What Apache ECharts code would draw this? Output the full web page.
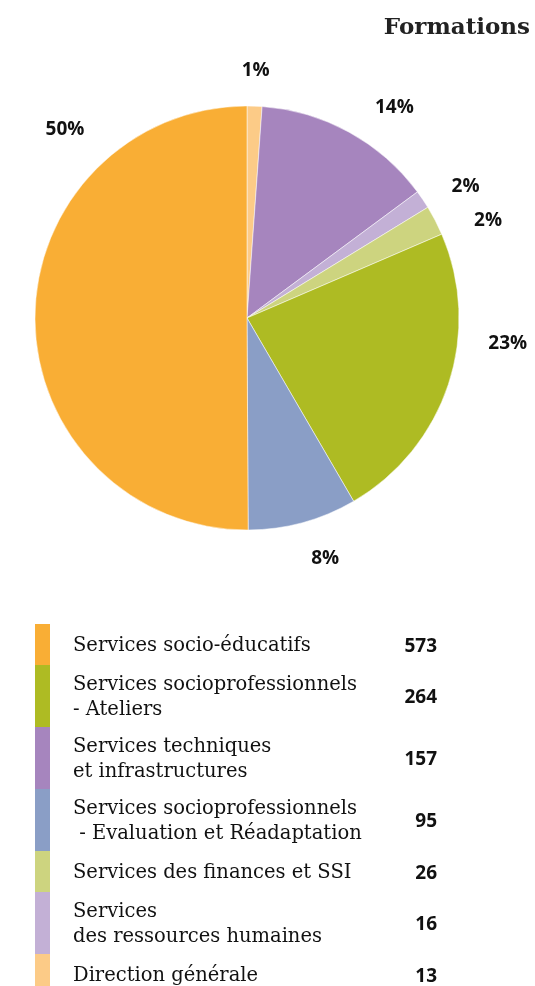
<!DOCTYPE html>
<html>
<head>
<meta charset="utf-8">
<script src="https://cdn.jsdelivr.net/npm/echarts@6/dist/echarts.min.js"></script>
<style>
  html, body { margin: 0; padding: 0; background: #fff; }
  #chart { width: 535px; height: 986px; }
</style>
</head>
<body>
<div id="chart"></div>
<script>
// legend order (top to bottom)
const categories = [
  'Services socio-éducatifs',
  'Services socioprofessionnels\n- Ateliers',
  'Services techniques\net infrastructures',
  'Services socioprofessionnels\n - Evaluation et Réadaptation',
  'Services des finances et SSI',
  'Services\ndes ressources humaines',
  'Direction générale'
]
const values = [573, 264, 157, 95, 26, 16, 13]
const colors = ['#F9AE35', '#AEBB23', '#A685BE', '#8A9EC6', '#CDD47F', '#C3B0D6', '#FCCB87']
// slice order in the pie, clockwise from 12 o'clock (indexes into the arrays above)
const pieOrder = [6, 2, 5, 4, 1, 3, 0]

const chart = echarts.init(document.getElementById('chart'))

// label placement around the pie (angle clockwise from top, radius from centre)
const cx = 247
const cy = 318
const labelPos = [[2, 248], [35, 257], [59, 255], [68, 260], [95.5, 262], [162, 253], [316, 262]]

// legend drawn as graphic rows
const legendItems = []
let rowY = 624
categories.forEach((name, i) => {
  const h = name.indexOf('\n') >= 0 ? 62 : 41
  legendItems.push({
    type: 'rect',
    shape: { x: 35, y: rowY, width: 15, height: h },
    style: { fill: colors[i] }
  })
  legendItems.push({
    type: 'text',
    x: 73,
    y: rowY + h / 2 + 1,
    style: {
      text: name,
      font: '19.5px "DejaVu Serif"',
      fill: '#111',
      lineHeight: 25,
      align: 'left',
      verticalAlign: 'middle'
    }
  })
  legendItems.push({
    type: 'text',
    x: 437,
    y: rowY + h / 2 + 2,
    style: {
      text: String(values[i]),
      font: 'bold 19px "Noto Sans"',
      fill: '#111',
      align: 'right',
      verticalAlign: 'middle'
    }
  })
  rowY += h
})

chart.setOption({
  animation: false,
  title: {
    text: 'Formations',
    right: 0,
    top: 12,
    textStyle: {
      fontFamily: 'DejaVu Serif',
      fontWeight: 'bold',
      fontSize: 23,
      color: '#222'
    }
  },
  graphic: legendItems,
  series: [
    {
      type: 'pie',
      center: [cx, cy],
      radius: 212,
      startAngle: 90,
      clockwise: true,
      percentPrecision: 0,
      avoidLabelOverlap: false,
      itemStyle: { borderColor: '#fff', borderWidth: 0.5 },
      label: {
        show: true,
        position: 'outside',
        formatter: '{d}%',
        fontFamily: 'Open Sans',
        fontWeight: 'bold',
        fontSize: 19,
        color: '#111'
      },
      labelLine: { show: false },
      labelLayout: function (params) {
        const p = labelPos[params.dataIndex]
        const a = p[0] * Math.PI / 180
        return {
          x: cx + p[1] * Math.sin(a),
          y: cy - p[1] * Math.cos(a),
          align: 'center',
          verticalAlign: 'middle'
        }
      },
      data: pieOrder.map(i => ({
        name: categories[i],
        value: values[i],
        itemStyle: { color: colors[i] }
      }))
    }
  ]
})
</script>
</body>
</html>
